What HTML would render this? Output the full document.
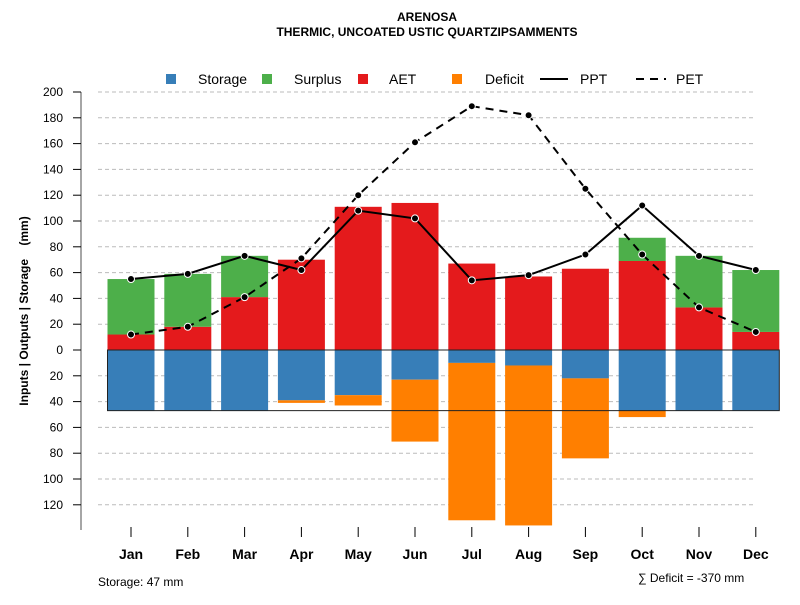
<!DOCTYPE html>
<html><head><meta charset="utf-8"><style>
body{margin:0;background:#fff}
svg text{font-family:"Liberation Sans",sans-serif}
</style></head><body>
<svg id="c" width="800" height="600" xmlns="http://www.w3.org/2000/svg">
<text x="427" y="21" text-anchor="middle" font-size="12" font-weight="bold">ARENOSA</text>
<text x="427" y="36" text-anchor="middle" font-size="12" font-weight="bold">THERMIC, UNCOATED USTIC QUARTZIPSAMMENTS</text>
<g font-size="14">
<rect x="166" y="74" width="10" height="10" fill="#377eb8"/>
<text x="198" y="84">Storage</text>
<rect x="262" y="74" width="10" height="10" fill="#4daf4a"/>
<text x="294" y="84">Surplus</text>
<rect x="358" y="74" width="10" height="10" fill="#e41a1c"/>
<text x="389" y="84">AET</text>
<rect x="452" y="74" width="10" height="10" fill="#ff7f00"/>
<text x="485" y="84">Deficit</text>
<line x1="540" y1="79" x2="568" y2="79" stroke="#000" stroke-width="2"/>
<text x="580" y="84">PPT</text>
<line x1="636" y1="79" x2="666" y2="79" stroke="#000" stroke-width="2" stroke-dasharray="8,6"/>
<text x="676" y="84">PET</text>
</g>
<text transform="translate(28,311) rotate(-90)" text-anchor="middle" font-size="12" font-weight="bold" style="white-space:pre">Inputs | Outputs | Storage    (mm)</text>
<text x="98" y="586" font-size="12">Storage: 47 mm</text>
<text x="638" y="582" font-size="12">∑ Deficit = -370 mm</text>
<g id="g"></g>
</svg>
<script>
const months=["Jan","Feb","Mar","Apr","May","Jun","Jul","Aug","Sep","Oct","Nov","Dec"];
const ppt=[55,59,73,62,108,102,54,58,74,112,73,62];
const pet=[12,18,41,71,120,161,189,182,125,74,33,14];
const aet=[12,18,41,70,111,114,67,57,63,69,33,14];
const surplus=[43,41,32,0,0,0,0,0,0,18,40,48];
const storage=[47,47,47,39,35,23,10,12,22,47,47,47];
const deficit=[0,0,0,2,8,48,122,124,62,5,0,0];
const yTicksUp=[0,20,40,60,80,100,120,140,160,180,200];
const yTicksDown=[20,40,60,80,100,120];
const awc=47;
const NS="http://www.w3.org/2000/svg";
const g=document.getElementById('g');
const y=v=>350-v*1.29;
const x=i=>131+i*56.8;
const bw=47;
function mk(t,a){const e=document.createElementNS(NS,t);for(const k in a)e.setAttribute(k,a[k]);g.appendChild(e);return e;}
[...yTicksUp,...yTicksDown.map(v=>-v)].forEach(v=>{
  if(v===0)return;
  const l=mk('line',{x1:98,x2:756,y1:y(v),y2:y(v),stroke:'#bbb','stroke-dasharray':'4,3'});
  
  
});
const ax=mk('line',{x1:81,x2:81,y1:y(200),y2:530,stroke:'#888','stroke-width':1.5});


yTicksUp.map(v=>[v,v]).concat(yTicksDown.map(v=>[-v,v])).forEach(([v,lab])=>{
  const t=mk('line',{x1:73,x2:81,y1:y(v),y2:y(v),stroke:'#000'});
  
  
  const tx=mk('text',{x:63,y:y(v)+4,'text-anchor':'end','font-size':12});
  tx.textContent=lab;
  
  
});
months.forEach((m,i)=>{
  const cx=x(i);
  const t=mk('line',{x1:cx,x2:cx,y1:527,y2:537,stroke:'#000'});
  
  
  const tx=mk('text',{x:cx,y:559,'text-anchor':'middle','font-size':14,'font-weight':'bold'});
  tx.textContent=m;
  
  
  const a=mk('rect',{x:cx-bw/2,y:y(aet[i]),width:bw,height:y(0)-y(aet[i]),fill:'#e41a1c'});
  
  
  if(surplus[i]>0){
    const s=mk('rect',{x:cx-bw/2,y:y(aet[i]+surplus[i]),width:bw,height:y(aet[i])-y(aet[i]+surplus[i]),fill:'#4daf4a'});
    
    
  }
  const st=mk('rect',{x:cx-bw/2,y:y(0),width:bw,height:y(-storage[i])-y(0),fill:'#377eb8'});
  
  
  if(deficit[i]>0){
    const d=mk('rect',{x:cx-bw/2,y:y(-storage[i]),width:bw,height:y(-storage[i]-deficit[i])-y(-storage[i]),fill:'#ff7f00'});
    
    
  }
});
const box=mk('rect',{x:x(0)-bw/2,y:y(0),width:x(11)-x(0)+bw,height:y(-awc)-y(0),fill:'none',stroke:'#222','stroke-width':1});


function line(arr,name,dash){
  const p=mk('polyline',{points:arr.map((v,i)=>x(i)+','+y(v)).join(' '),fill:'none',stroke:'#000','stroke-width':2});
  if(dash)p.setAttribute('stroke-dasharray','8,6');
  
  
  arr.forEach((v,i)=>{
    const c=mk('circle',{cx:x(i),cy:y(v),r:3.5,fill:'#000',stroke:'#fff','stroke-width':1});
    
    
  });
}
line(pet,'pet',true);
line(ppt,'ppt',false);
</script>
</body></html>
